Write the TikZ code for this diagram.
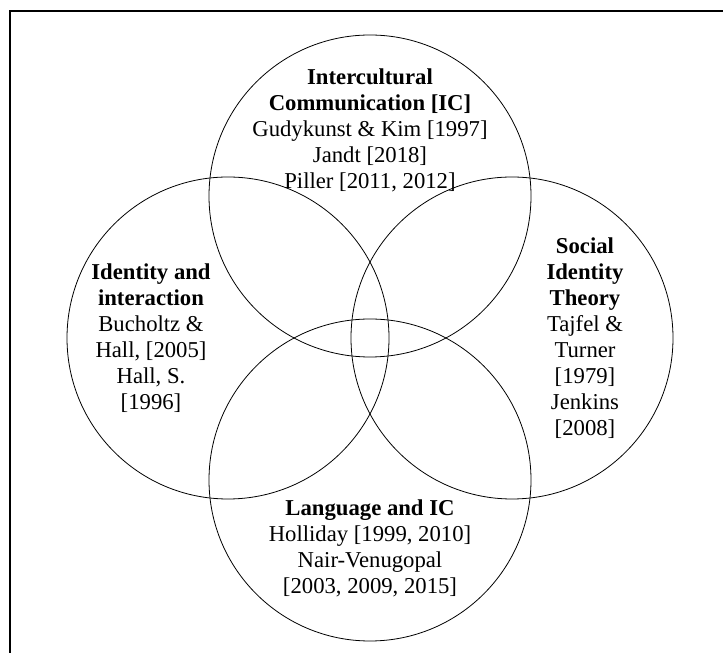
\documentclass[tikz,border=0pt]{standalone}
\usepackage{fontspec}
\setmainfont{Liberation Serif}
\usepackage{tikz}

\begin{document}
\begin{tikzpicture}
 [x=1pt, y=1pt,
  set node/.style={node distance=142pt, circle, draw, line width=0.8pt, minimum size=322pt, inner sep=0pt},
  text node/.style={align=center, inner sep=0pt, font=\fontsize{22.7}{26}\selectfont}]

\useasboundingbox (0,0) rectangle (723,653);
\draw[line width=1.6pt] (10,0) -- (10,642) -- (723,642);

\coordinate (c) at (370,315);
\node[set node] (ic) [above of=c] {};
\node[set node] (lang) [below of=c] {};
\node[set node] (id) [left of=c] {};
\node[set node] (sit) [right of=c] {};

\node[text node] (ic label) [node distance=66pt, above of=ic]
  {\textbf{Intercultural}\\ \textbf{Communication [IC]}\\ Gudykunst \& Kim [1997]\\ Jandt [2018]\\ Piller [2011, 2012]};
\node[text node] (id label) [node distance=77pt, left of=id]
  {\textbf{Identity and}\\ \textbf{interaction}\\ Bucholtz \&\\ Hall, [2005]\\ Hall, S.\\ {}[1996]};
\node[text node] (sit label) [node distance=73pt, right of=sit]
  {\textbf{Social}\\ \textbf{Identity}\\ \textbf{Theory}\\ Tajfel \&\\ Turner\\ {}[1979]\\ Jenkins\\ {}[2008]};
\node[text node] (lang label) [node distance=68pt, below of=lang]
  {\textbf{Language and IC}\\ Holliday [1999, 2010]\\ Nair-Venugopal\\ {}[2003, 2009, 2015]};

\end{tikzpicture}
\end{document}
